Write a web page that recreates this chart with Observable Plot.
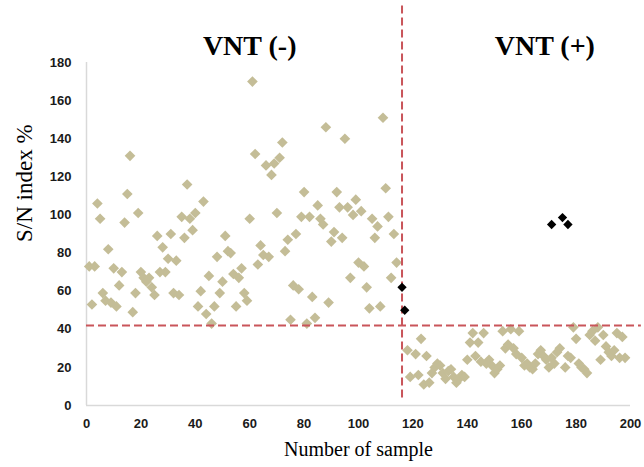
<!DOCTYPE html>
<html><head><meta charset="utf-8">
<script src="https://cdn.jsdelivr.net/npm/d3@7"></script>
<script src="https://cdn.jsdelivr.net/npm/@observablehq/plot@0.6"></script>
<style>body{margin:0;background:#fff}</style>
</head><body><div id="chart"></div>
<script>
// VNT (-) samples
const sampleNeg = [1,2,3,4,5,6,7,8,9,10,11,12,13,14,15,16,17,18,19,20,21,22,23,24,25,26,27,28,29,30,31,32,33,34,35,36,37,38,39,40,41,42,43,44,45,46,47,48,49,50,51,52,53,54,55,56,57,58,59,60,61,62,63,64,65,66,67,68,69,70,71,72,73,74,75,76,77,78,79,80,81,82,83,84,85,86,87,88,89,90,91,92,93,94,95,96,97,98,99,100,101,102,103,104,105,106,107,108,109,110,111,112,113,114];
const snNeg = [73,53,73,106,98,59,55,82,54,72,52,63,70,96,111,131,49,59,101,70,67,65,67,62,58,89,70,83,70,77,90,59,76,58,99,88,116,98,92,101,52,60,107,48,68,43,52,78,59,65,89,81,80,69,52,67,72,59,55,98,170,132,74,84,79,126,78,121,127,101,130,138,81,87,45,63,90,61,99,112,43,99,57,46,105,98,95,146,54,86,91,112,104,88,140,104,67,100,108,75,102,73,62,51,98,88,94,52,151,114,99,67,90,75];
// VNT (+) samples
const samplePos = [118,119,121,122,123,124,125,126,127,128,129,130,131,132,133,134,135,136,137,138,139,140,141,142,143,144,145,146,147,148,149,150,151,152,153,154,155,156,157,158,159,160,161,162,163,164,165,166,167,168,169,170,171,172,173,174,176,177,178,179,180,181,182,183,184,185,186,187,188,189,190,191,192,193,194,195,196,197,198];
const snPos = [29,15,27,16,35,11,26,12,17,20,22,21,17,14,18,19,15,12,14,16,15,24,33,38,26,33,23,38,22,24,21,17,19,21,39,30,32,40,30,27,39,25,21,22,20,19,22,27,29,26,24,20,25,22,28,30,20,26,25,41,35,22,20,19,17,37,39,34,41,24,37,31,28,26,29,38,25,36,25];
// discordant samples (black)
const sampleOdd = [116,117,171,175,177];
const snOdd = [62,50,95,98.6,95];
// cut-offs
const cutSample = [116];
const cutIndex = [42];
// group titles
const groupNames = ["VNT (-)", "VNT (+)"];
const groupX = [60, 168.5];
const xTicks = [0,20,40,60,80,100,120,140,160,180,200];
const yTicks = [0,20,40,60,80,100,120,140,160,180];

const tan = sampleNeg.map((s,i)=>({x:s,y:snNeg[i]})).concat(samplePos.map((s,i)=>({x:s,y:snPos[i]})));
const odd = sampleOdd.map((s,i)=>({x:s,y:snOdd[i]}));
const titles = groupNames.map((n,i)=>({name:n,x:groupX[i]}));

const tickFont = "'Liberation Sans', Arial, sans-serif";
const serif = "'Liberation Serif', 'Times New Roman', serif";

const chart = Plot.plot({
  width: 644, height: 467,
  marginLeft: 86, marginRight: 14, marginTop: 62, marginBottom: 62,
  style: {background: "#fff", overflow: "visible"},
  x: {domain: [0, 200], ticks: xTicks, axis: null},
  y: {domain: [0, 180], ticks: yTicks, axis: null},
  marks: [
    Plot.ruleY([0], {stroke: "#d9d9d9", strokeWidth: 1.5}),
    Plot.ruleX([0], {stroke: "#d9d9d9", strokeWidth: 1.5}),
    Plot.axisX({ticks: xTicks, tickSize: 0, tickPadding: 13, fontSize: 13, fontWeight: "bold", fontFamily: tickFont, fill: "#1a1a1a", label: null}),
    Plot.axisY({ticks: yTicks, tickSize: 0, tickPadding: 15, fontSize: 13, fontWeight: "bold", fontFamily: tickFont, fill: "#1a1a1a", label: null}),
    Plot.dot(tan, {x: "x", y: "y", symbol: "diamond2", r: 4.8, fill: "#C4BD97", stroke: "none"}),
    Plot.ruleX(cutSample, {y1: 4, y2: 210, stroke: "#C9555A", strokeWidth: 2, strokeDasharray: "8,4", clip: false}),
    Plot.ruleY(cutIndex, {x1: 0, x2: 204, stroke: "#C9555A", strokeWidth: 2, strokeDasharray: "8,4", clip: false}),
    Plot.dot(odd, {x: "x", y: "y", symbol: "diamond2", r: 4.2, fill: "#000", stroke: "none"}),
    Plot.text(titles, {x: "x", text: "name", frameAnchor: "top", dy: -27, fontSize: 28, fontWeight: "bold", fontFamily: serif, fill: "#000"}),
    Plot.text(["Number of sample"], {frameAnchor: "bottom", dy: 50, fontSize: 20, fontFamily: serif, fill: "#000"}),
    Plot.text(["S/N index %"], {frameAnchor: "left", rotate: -90, dx: -62, dy: 8, fontSize: 23, fontFamily: serif, fill: "#000"})
  ]
});
document.getElementById("chart").appendChild(chart);
</script>
</body></html>
